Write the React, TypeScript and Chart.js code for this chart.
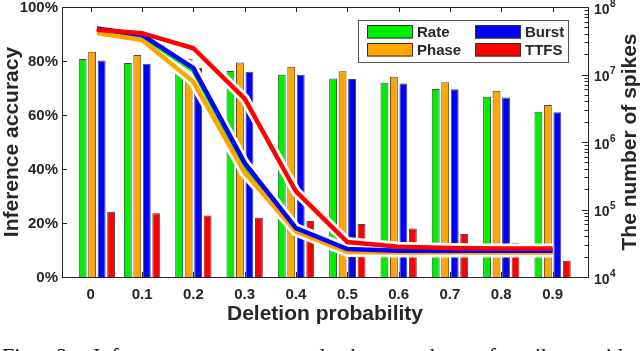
import { useEffect, useRef } from "react";
import { Chart, registerables } from "chart.js";

Chart.register(...registerables);

// ---- data ----
const tickLabels = ["0", "0.1", "0.2", "0.3", "0.4", "0.5", "0.6", "0.7", "0.8", "0.9"];
const tickValues = [0, 0.1, 0.2, 0.3, 0.4, 0.5, 0.6, 0.7, 0.8, 0.9];
// positions at which the groups / line points were plotted (first one slightly right of 0)
const dataX = [0.012, 0.1, 0.2, 0.3, 0.4, 0.5, 0.6, 0.7, 0.8, 0.9];

const seriesNames = ["Rate", "Phase", "Burst", "TTFS"];
const seriesColors = ["#00ee00", "#ffa500", "#0000ff", "#ff0000"];

const rateAcc = [80.7, 79.3, 77.8, 76.3, 74.9, 73.5, 71.9, 69.6, 66.8, 61.2];
const phaseAcc = [83.4, 82.2, 80.8, 79.4, 77.9, 76.2, 74.2, 72.1, 69.0, 63.7];
const burstAcc = [80.2, 79.0, 77.5, 76.0, 74.9, 73.3, 71.7, 69.5, 66.5, 61.0];
const ttfsAcc = [24.2, 23.6, 22.8, 21.9, 20.7, 19.6, 18.0, 15.9, 12.7, 6.0];

const rateSpikes = [4.7e7, 3.7e7, 1.15e7, 4.4e5, 5.0e4, 2.5e4, 2.4e4, 2.4e4, 2.4e4, 2.4e4];
const phaseSpikes = [4.1e7, 3.25e7, 7.8e6, 3.5e5, 4.7e4, 2.35e4, 2.3e4, 2.3e4, 2.3e4, 2.3e4];
const burstSpikes = [4.8e7, 3.85e7, 1.24e7, 4.9e5, 5.3e4, 2.6e4, 2.45e4, 2.45e4, 2.45e4, 2.45e4];
const ttfsSpikes = [4.6e7, 4.1e7, 2.45e7, 4.4e6, 1.85e5, 3.3e4, 2.8e4, 2.7e4, 2.65e4, 2.65e4];

const accTicks = [0, 20, 40, 60, 80, 100];
const spikeExponents = [4, 5, 6, 7, 8];

const xTitle = "Deletion probability";
const yTitle = "Inference accuracy";
const y2Title = "The number of spikes";

const accSeries = [rateAcc, phaseAcc, burstAcc, ttfsAcc];
const spikeSeries = [rateSpikes, phaseSpikes, burstSpikes, ttfsSpikes];

const FONT = "'Liberation Sans', Arial, Helvetica, sans-serif";
const TEXT = "#262626";
const CANVAS_W = 640;
const CANVAS_H = 335;

const decorPlugin = {
  id: "decor",
  beforeDatasetsDraw(chart: any) {
    const { ctx, chartArea: a, scales } = chart;
    const x = scales.x, y = scales.y, y2 = scales.y2;
    ctx.save();
    ctx.strokeStyle = TEXT;
    ctx.lineWidth = 1;
    ctx.beginPath();
    for (const v of tickValues) {
      const px = Math.round(x.getPixelForValue(v)) + 0.5;
      ctx.moveTo(px, a.top);
      ctx.lineTo(px, a.top + 5);
      ctx.moveTo(px, a.bottom);
      ctx.lineTo(px, a.bottom - 5);
    }
    for (const v of accTicks) {
      const py = Math.round(y.getPixelForValue(v)) + 0.5;
      ctx.moveTo(a.left, py);
      ctx.lineTo(a.left + 5, py);
    }
    for (const e of spikeExponents) {
      const py = Math.round(y2.getPixelForValue(Math.pow(10, e))) + 0.5;
      ctx.moveTo(a.right, py);
      ctx.lineTo(a.right - 6, py);
      if (e < spikeExponents[spikeExponents.length - 1]) {
        for (let m = 2; m <= 9; m++) {
          const pm = Math.round(y2.getPixelForValue(m * Math.pow(10, e))) + 0.5;
          ctx.moveTo(a.right, pm);
          ctx.lineTo(a.right - 3.5, pm);
        }
      }
    }
    ctx.stroke();
    ctx.restore();
  },
  afterDraw(chart: any) {
    const { ctx, chartArea: a, scales } = chart;
    const x = scales.x, y = scales.y, y2 = scales.y2;
    ctx.save();
    // frame
    ctx.strokeStyle = TEXT;
    ctx.lineWidth = 1;
    ctx.strokeRect(Math.round(a.left) + 0.5, Math.round(a.top) + 0.5, Math.round(a.right - a.left), Math.round(a.bottom - a.top));

    ctx.fillStyle = TEXT;
    // x tick labels
    ctx.font = `bold 15px ${FONT}`;
    ctx.textAlign = "center";
    ctx.textBaseline = "alphabetic";
    tickValues.forEach((v, i) => {
      ctx.fillText(tickLabels[i], x.getPixelForValue(v), a.bottom + 21.5);
    });
    // y tick labels
    ctx.textAlign = "right";
    ctx.textBaseline = "middle";
    for (const v of accTicks) {
      ctx.fillText(`${v}%`, a.left - 4, y.getPixelForValue(v) + 1);
    }

    // right axis labels 10^n
    ctx.textAlign = "left";
    for (const e of spikeExponents) {
      const py = y2.getPixelForValue(Math.pow(10, e));
      ctx.font = `bold 14px ${FONT}`;
      const bx = a.right + 6;
      ctx.fillText("10", bx, py + 3);
      const w = ctx.measureText("10").width;
      ctx.font = `bold 10px ${FONT}`;
      ctx.fillText(String(e), bx + w + 0.5, py - 3);
    }

    // titles
    ctx.font = `bold 21px ${FONT}`;
    ctx.textAlign = "center";
    ctx.textBaseline = "alphabetic";
    ctx.fillText(xTitle, (a.left + a.right) / 2, a.bottom + 43);

    ctx.textBaseline = "middle";
    ctx.save();
    ctx.translate(12, (a.top + a.bottom) / 2);
    ctx.rotate(-Math.PI / 2);
    ctx.fillText(yTitle, 0, 0);
    ctx.restore();

    ctx.save();
    ctx.translate(630, (a.top + a.bottom) / 2);
    ctx.rotate(-Math.PI / 2);
    ctx.fillText(y2Title, 0, 0);
    ctx.restore();

    // legend
    const lx = 358.5, ly = 20.5, lw = 210, lh = 42;
    ctx.fillStyle = "#ffffff";
    ctx.fillRect(lx, ly, lw, lh);
    ctx.strokeStyle = "#555555";
    ctx.strokeRect(lx, ly, lw, lh);
    const cols = [367, 475];
    const rows = [25, 43];
    const order = [
      [0, 0, 0],
      [1, 0, 1],
      [2, 1, 0],
      [3, 1, 1],
    ];
    ctx.font = `bold 15px ${FONT}`;
    ctx.textAlign = "left";
    ctx.textBaseline = "middle";
    for (const [s, c, r] of order) {
      const sx = cols[c], sy = rows[r];
      ctx.fillStyle = seriesColors[s];
      ctx.fillRect(sx, sy, 46, 13.5);
      ctx.strokeStyle = "#333333";
      ctx.strokeRect(sx + 0.5, sy + 0.5, 45, 12.5);
      ctx.fillStyle = TEXT;
      ctx.fillText(seriesNames[s], sx + 50, sy + 7.5);
    }
    ctx.restore();
  },
};

export default function App() {
  const ref = useRef<HTMLCanvasElement | null>(null);

  useEffect(() => {
    document.body.style.margin = "0";
    const canvas = ref.current;
    if (!canvas) return;

    const barSets = accSeries.map((vals, s) => ({
      type: "bar" as const,
      label: seriesNames[s],
      data: vals.map((v, i) => ({ x: dataX[i], y: v })),
      backgroundColor: seriesColors[s],
      borderColor: "#4a4a4a",
      borderWidth: 1,
      borderSkipped: "start",
      yAxisID: "y",
      categoryPercentage: 0.84,
      barPercentage: 0.83,
      order: 20,
    }));

    // colored lines: red on top, then blue, orange, green; white outlines beneath all
    const lineTopOrder = [3, 2, 1, 0];
    const lineSets: any[] = [];
    lineTopOrder.forEach((s, k) => {
      lineSets.push({
        type: "line" as const,
        label: seriesNames[s] + " spikes",
        data: spikeSeries[s].map((v, i) => ({ x: dataX[i], y: v })),
        borderColor: seriesColors[s],
        borderWidth: 4.5,
        pointRadius: 0,
        tension: 0,
        fill: false,
        yAxisID: "y2",
        order: k,
      });
      lineSets.push({
        type: "line" as const,
        label: seriesNames[s] + " outline",
        data: spikeSeries[s].map((v, i) => ({ x: dataX[i], y: v })),
        borderColor: "#ffffff",
        borderWidth: 10,
        pointRadius: 0,
        tension: 0,
        fill: false,
        yAxisID: "y2",
        order: 10 + k,
      });
    });

    const chart = new Chart(canvas, {
      type: "bar",
      data: { datasets: [...lineSets, ...barSets] as any },
      options: {
        responsive: false,
        animation: false,
        layout: { autoPadding: false, padding: { top: 7, left: 62, right: 52, bottom: CANVAS_H - 277 } },
        plugins: { legend: { display: false }, tooltip: { enabled: false } },
        scales: {
          x: {
            type: "linear",
            display: false,
            offset: false,
            min: -0.056,
            max: 0.969,
            afterBuildTicks: (ax: any) => {
              ax.ticks = tickValues.map((v) => ({ value: v }));
            },
          },
          y: {
            type: "linear",
            display: false,
            position: "left",
            min: 0,
            max: 100,
          },
          y2: {
            type: "logarithmic",
            display: false,
            position: "right",
            min: 1e4,
            max: 1e8,
          },
        },
      },
      plugins: [decorPlugin],
    });

    return () => chart.destroy();
  }, []);

  return (
    <div style={{ position: "relative", width: 640, height: 351, overflow: "hidden", background: "#fff" }}>
      <canvas ref={ref} width={CANVAS_W} height={CANVAS_H} style={{ display: "block", width: CANVAS_W, height: CANVAS_H }} />
      <div
        style={{
          position: "absolute",
          left: 2,
          top: 345,
          fontFamily: "'Liberation Serif', 'Times New Roman', serif",
          fontSize: 22,
          lineHeight: "22px",
          whiteSpace: "nowrap",
          wordSpacing: 14,
          color: "#111",
        }}
      >
        Fig. 2: Inference accuracy and the number of spikes with
      </div>
    </div>
  );
}
